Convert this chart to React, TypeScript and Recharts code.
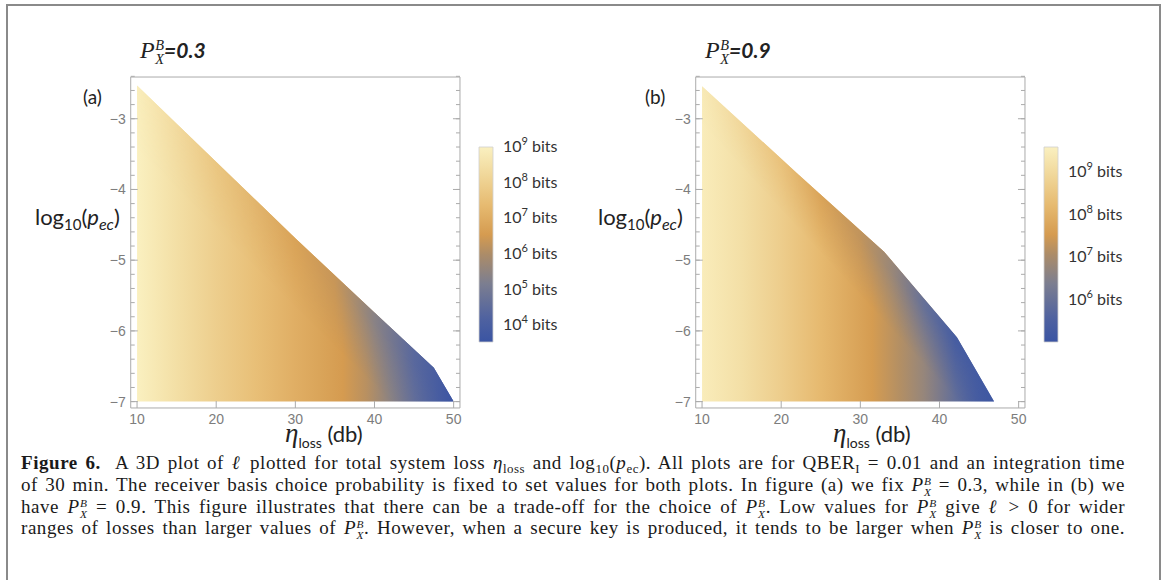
import React from 'react'
import { ComposedChart, Area, XAxis, YAxis, ReferenceArea } from 'recharts'

// upper edge of the region with l > 0, panel (a): P_X^B = 0.3
const edgeLossA = [10, 30, 40, 47.5, 50]
const edgePecA = [-2.53, -4.69, -5.74, -6.52, -7.0]
// upper edge, panel (b): P_X^B = 0.9
const edgeLossB = [10, 22, 33, 42.2, 46.9]
const edgePecB = [-2.54, -3.77, -4.88, -6.09, -7.0]

// log10 of key length (bits) along the loss axis, bottom of each plot
const keyLossA = [10, 15, 20, 25, 30, 33, 36, 39, 42, 45, 48, 50]
const keyLogA = [9.0, 8.45, 7.95, 7.5, 7.05, 6.8, 6.55, 6.15, 5.45, 4.75, 4.1, 3.6]
const keyLossB = [10, 15, 20, 25, 31.5, 35, 38, 42, 45, 46.9]
const keyLogB = [9.5, 9.15, 8.7, 8.2, 7.55, 7.15, 6.75, 5.9, 5.35, 5.1]

// log10 of key length just under the upper edge
const rimLossA = [10, 20, 30, 35, 40, 45, 50]
const rimLogA = [8.9, 7.7, 6.75, 6.35, 5.4, 4.4, 3.6]
const rimLossB = [10, 20, 25, 30, 34, 38, 42, 46.9]
const rimLogB = [9.4, 8.35, 7.7, 7.3, 6.8, 6.0, 5.35, 5.1]

// colour bar ranges (log10 bits) and labelled decades
const barRangeA = [3.53, 9.0]
const barTicksA = [4, 5, 6, 7, 8, 9]
const barRangeB = [5.0, 9.6]
const barTicksB = [6, 7, 8, 9]

const lossTicks = [10, 20, 30, 40, 50]
const lossMinor = [10, 12, 14, 16, 18, 20, 22, 24, 26, 28, 30, 32, 34, 36, 38, 40, 42, 44, 46, 48, 50]
const pecTicks = [-7, -6, -5, -4, -3]
const pecMinor = [
  -7, -6.8, -6.6, -6.4, -6.2, -6, -5.8, -5.6, -5.4, -5.2, -5, -4.8, -4.6, -4.4, -4.2, -4,
  -3.8, -3.6, -3.4, -3.2, -3, -2.8, -2.6, -2.4,
]
const lossDomain = [9.2, 50.8]
const pecDomain = [-7.09, -2.41]

const cmapStops: [number, string][] = [
  [0, '#3a54a3'],
  [0.12, '#4f62a0'],
  [0.3, '#7c7e90'],
  [0.45, '#ac8c68'],
  [0.55, '#d59b50'],
  [0.7, '#e6ba70'],
  [0.85, '#f0d698'],
  [1, '#faf0c0'],
]

const FRAME = '#ababab'
const TICK_TEXT = '#7d7d7d'
const SANS = 'Lato, "Open Sans", sans-serif'
const SERIF = '"Liberation Serif", "DejaVu Serif", serif'
const THIN = 0.01 // axes sit on the frame edge without taking up room

function rgb(h: string) {
  return [1, 3, 5].map((i) => parseInt(h.slice(i, i + 2), 16))
}

function cmap(f: number) {
  const t = Math.max(0, Math.min(1, f))
  for (let i = 1; i < cmapStops.length; i++) {
    const [o1, c1] = cmapStops[i]
    const [o0, c0] = cmapStops[i - 1]
    if (t <= o1) {
      const k = (t - o0) / (o1 - o0)
      const a = rgb(c0)
      const b = rgb(c1)
      return `rgb(${a.map((v, j) => Math.round(v + (b[j] - v) * k)).join(',')})`
    }
  }
  return cmapStops[cmapStops.length - 1][1]
}

const minus = (v: number) => (v < 0 ? `\u2212${Math.abs(v)}` : `${v}`)
const noLabel = () => <g />

function HeatPanel(props: any) {
  const { id, left, edgeLoss, edgePec, keyLoss, keyLog, rimLoss, rimLog, range, fade } = props
  const data = edgeLoss.map((loss: number, i: number) => ({ loss, pec: edgePec[i] }))
  const x0 = edgeLoss[0]
  const x1 = edgeLoss[edgeLoss.length - 1]
  const off = (loss: number) => (loss - x0) / (x1 - x0)
  const toF = (v: number) => (v - range[0]) / (range[1] - range[0])
  const tickText = { fill: TICK_TEXT, fontSize: 14, fontFamily: '"Liberation Sans", Arial, sans-serif' }
  const common = { type: 'number' as const, domain: lossDomain, allowDataOverflow: true, interval: 0 as const, stroke: FRAME }
  const commonY = { type: 'number' as const, domain: pecDomain, allowDataOverflow: true, interval: 0 as const, stroke: FRAME }
  return (
    <div style={{ position: 'absolute', left, top: 60 }}>
      <ComposedChart width={420} height={400} data={data} margin={{ top: 17, right: 20, bottom: 52, left: 70.7 }}>
        <defs>
          <linearGradient id={`fill-${id}`} x1="0" y1="0" x2="1" y2="0">
            {keyLoss.map((loss: number, i: number) => (
              <stop key={i} offset={off(loss)} stopColor={cmap(toF(keyLog[i]))} />
            ))}
          </linearGradient>
          <linearGradient id={`rim-${id}`} x1="0" y1="0" x2="1" y2="0">
            {rimLoss.map((loss: number, i: number) => (
              <stop key={i} offset={off(loss)} stopColor={cmap(toF(rimLog[i]))} />
            ))}
          </linearGradient>
          <linearGradient id={`fade-${id}`} x1="0" y1="1" x2="1" y2="0">
            <stop offset={fade[0]} stopColor="#fff" stopOpacity={0} />
            <stop offset={fade[1]} stopColor="#fff" stopOpacity={1} />
          </linearGradient>
          <mask id={`mask-${id}`} maskContentUnits="objectBoundingBox">
            <rect x="0" y="0" width="1" height="1" fill={`url(#fade-${id})`} />
          </mask>
        </defs>
        <XAxis xAxisId="b" orientation="bottom" dataKey="loss" {...common} ticks={lossTicks} height={THIN}
          tickSize={-7} tickMargin={13} tick={tickText} />
        <XAxis xAxisId="bm" orientation="bottom" {...common} ticks={lossMinor} height={THIN}
          tickSize={-4} axisLine={false} tick={noLabel} />
        <XAxis xAxisId="t" orientation="top" {...common} ticks={lossTicks} height={THIN}
          tickSize={-7} tick={noLabel} />
        <XAxis xAxisId="tm" orientation="top" {...common} ticks={lossMinor} height={THIN}
          tickSize={-4} axisLine={false} tick={noLabel} />
        <YAxis yAxisId="l" orientation="left" {...commonY} ticks={pecTicks} width={THIN}
          tickSize={-7} tickMargin={12} tickFormatter={minus} tick={tickText} />
        <YAxis yAxisId="lm" orientation="left" {...commonY} ticks={pecMinor} width={THIN}
          tickSize={-4} axisLine={false} tick={noLabel} />
        <YAxis yAxisId="r" orientation="right" {...commonY} ticks={pecTicks} width={THIN}
          tickSize={-7} tick={noLabel} />
        <YAxis yAxisId="rm" orientation="right" {...commonY} ticks={pecMinor} width={THIN}
          tickSize={-4} axisLine={false} tick={noLabel} />
        <Area xAxisId="b" yAxisId="l" type="linear" dataKey="pec" baseValue={-7} stroke="none"
          fill={`url(#fill-${id})`} fillOpacity={1} dot={false} activeDot={false} isAnimationActive={false} />
        <Area xAxisId="b" yAxisId="l" type="linear" dataKey="pec" baseValue={-7} stroke="none"
          className={`rim-${id}`} fill={`url(#rim-${id})`} fillOpacity={1} dot={false} activeDot={false}
          isAnimationActive={false} />
      </ComposedChart>
    </div>
  )
}

function BitsTick(props: any) {
  const { x, y, payload } = props
  return (
    <text x={x} y={y} dy={5} fill="#333" fontSize={16} fontFamily={SANS} textAnchor="start">
      <tspan>10</tspan>
      <tspan dy={-7} fontSize={11}>{payload.value}</tspan>
      <tspan dy={7}> bits</tspan>
    </text>
  )
}

function ColorBar({ id, left, range, ticks }: any) {
  return (
    <div style={{ position: 'absolute', left, top: 117 }}>
      <ComposedChart width={120} height={245} data={[{ x: 0 }, { x: 1 }]} margin={{ top: 30, right: 97, bottom: 20, left: 9 }}>
        <defs>
          <linearGradient id={`bar-${id}`} x1="0" y1="1" x2="0" y2="0">
            {cmapStops.map(([o, c]) => (
              <stop key={o} offset={o} stopColor={c} />
            ))}
          </linearGradient>
        </defs>
        <XAxis type="number" dataKey="x" domain={[0, 1]} hide />
        <YAxis orientation="right" type="number" domain={range} ticks={ticks} width={THIN} interval={0}
          tickLine={false} axisLine={false} tickMargin={4} tick={<BitsTick />} allowDataOverflow />
        <ReferenceArea x1={0} x2={1} y1={range[0]} y2={range[1]} fill={`url(#bar-${id})`} fillOpacity={1}
          stroke="#cfcfcf" strokeWidth={0.8} ifOverflow="visible" />
      </ComposedChart>
    </div>
  )
}

function PXB() {
  return (
    <span style={{ whiteSpace: 'nowrap', fontFamily: SERIF }}>
      <i>P</i>
      <span
        style={{
          display: 'inline-block',
          verticalAlign: '-0.45em',
          lineHeight: 1,
          fontSize: '0.6em',
          fontStyle: 'italic',
          marginLeft: '0.04em',
        }}
      >
        <span style={{ display: 'block' }}>B</span>
        <span style={{ display: 'block' }}>X</span>
      </span>
    </span>
  )
}

function Title({ left, value }: { left: number; value: string }) {
  return (
    <div style={{ position: 'absolute', left, top: 36, fontSize: 24, lineHeight: '28px', color: '#222', whiteSpace: 'nowrap' }}>
      <PXB />
      <span style={{ fontFamily: SANS, fontStyle: 'italic', fontWeight: 700, fontSize: 21 }}>={value}</span>
    </div>
  )
}

function YLabel({ left }: { left: number }) {
  return (
    <div style={{ position: 'absolute', left, top: 203, fontFamily: SANS, fontSize: 22, lineHeight: '28px', color: '#222', whiteSpace: 'nowrap' }}>
      log<sub style={{ fontSize: 15, verticalAlign: '-0.35em' }}>10</sub>(<i>p</i>
      <sub style={{ fontSize: 16, verticalAlign: '-0.3em', fontStyle: 'italic' }}>ec</sub>)
    </div>
  )
}

function XLabel({ left }: { left: number }) {
  return (
    <div style={{ position: 'absolute', left, top: 419, fontFamily: SANS, fontSize: 22, lineHeight: '28px', color: '#222', whiteSpace: 'nowrap' }}>
      <i style={{ fontFamily: SERIF, fontSize: 27 }}>η</i>
      <sub style={{ fontSize: 14, verticalAlign: '-0.45em' }}>loss</sub> (db)
    </div>
  )
}

function PanelTag({ left, text }: { left: number; text: string }) {
  return (
    <div style={{ position: 'absolute', left, top: 85, fontFamily: SANS, fontSize: 19, lineHeight: '24px', color: '#222' }}>
      {text}
    </div>
  )
}

const sub = (t: string) => <sub style={{ fontSize: '0.68em', verticalAlign: '-0.3em', lineHeight: 0 }}>{t}</sub>

function CaptionLine({ top, children }: { top: number; children: React.ReactNode }) {
  return (
    <div
      style={{
        position: 'absolute',
        left: 21,
        top,
        width: 1104,
        height: 22,
        lineHeight: '22px',
        fontFamily: SERIF,
        fontSize: 19,
        letterSpacing: 0.55,
        color: '#1a1a1a',
        whiteSpace: 'nowrap',
        textAlign: 'justify',
        textAlignLast: 'justify',
      }}
    >
      {children}
    </div>
  )
}

function Caption() {
  return (
    <>
      <CaptionLine top={452}>
        <b>Figure 6.</b>&nbsp; A 3D plot of <i>ℓ</i> plotted for total system loss <i>η</i>{sub('loss')} and log{sub('10')}(<i>p</i>
        {sub('ec')}). All plots are for QBER{sub('I')} = 0.01 and an integration time
      </CaptionLine>
      <CaptionLine top={474}>
        of 30 min. The receiver basis choice probability is fixed to set values for both plots. In figure (a) we fix <PXB /> = 0.3, while in (b) we
      </CaptionLine>
      <CaptionLine top={496}>
        have <PXB /> = 0.9. This figure illustrates that there can be a trade-off for the choice of <PXB />. Low values for <PXB /> give <i>ℓ</i> &gt; 0 for wider
      </CaptionLine>
      <CaptionLine top={517}>
        ranges of losses than larger values of <PXB />. However, when a secure key is produced, it tends to be larger when <PXB /> is closer to one.
      </CaptionLine>
    </>
  )
}

export default function App() {
  return (
    <div style={{ position: 'absolute', left: 0, top: 0, width: 1163, height: 580, overflow: 'hidden', background: '#fff' }}>
      <style>{'.rim-a{mask:url(#mask-a)}.rim-b{mask:url(#mask-b)}'}</style>
      <div style={{ position: 'absolute', left: 6, top: 4, width: 1155, height: 640, boxSizing: 'border-box', border: '2px solid #8a8a8a' }} />
      <HeatPanel id="a" left={60} edgeLoss={edgeLossA} edgePec={edgePecA} keyLoss={keyLossA} keyLog={keyLogA}
        rimLoss={rimLossA} rimLog={rimLogA} range={barRangeA} fade={[0.4, 0.5]} />
      <HeatPanel id="b" left={625.3} edgeLoss={edgeLossB} edgePec={edgePecB} keyLoss={keyLossB} keyLog={keyLogB}
        rimLoss={rimLossB} rimLog={rimLogB} range={barRangeB} fade={[0.44, 0.53]} />
      <ColorBar id="a" left={470} range={barRangeA} ticks={barTicksA} />
      <ColorBar id="b" left={1035} range={barRangeB} ticks={barTicksB} />
      <Title left={140} value="0.3" />
      <Title left={705} value="0.9" />
      <PanelTag left={83} text="(a)" />
      <PanelTag left={645} text="(b)" />
      <YLabel left={35} />
      <YLabel left={598} />
      <XLabel left={285} />
      <XLabel left={833} />
      <Caption />
    </div>
  )
}
